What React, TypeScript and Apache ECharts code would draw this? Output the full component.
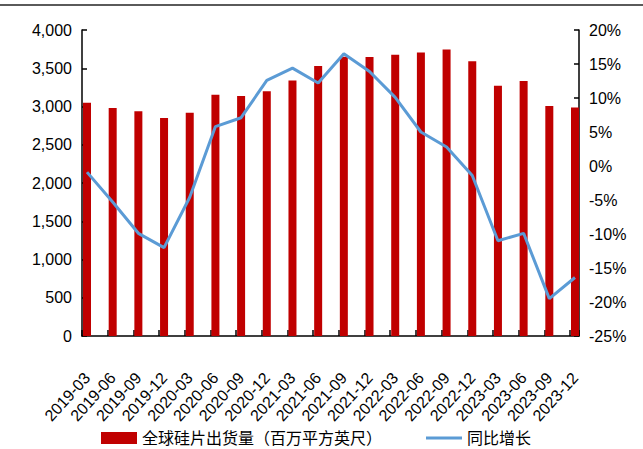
import React, { useEffect, useRef } from 'react';
import * as echarts from 'echarts';

const categories = [
  '2019-03', '2019-06', '2019-09', '2019-12',
  '2020-03', '2020-06', '2020-09', '2020-12',
  '2021-03', '2021-06', '2021-09', '2021-12',
  '2022-03', '2022-06', '2022-09', '2022-12',
  '2023-03', '2023-06', '2023-09', '2023-12',
];
const shipments = [
  3050, 2980, 2937, 2850,
  2919, 3152, 3137, 3198,
  3340, 3530, 3650, 3646,
  3677, 3706, 3746, 3593,
  3270, 3333, 3005, 2988,
];
const yoyGrowth = [
  -0.9, -5.3, -9.9, -12.0,
  -4.6, 5.8, 7.1, 12.6,
  14.4, 12.2, 16.5, 13.9,
  10.1, 5.0, 2.8, -1.4,
  -11.0, -9.9, -19.5, -16.4,
];
const seriesNames = ['全球硅片出货量（百万平方英尺）', '同比增长'];
const leftAxisRange = { min: 0, max: 4000, step: 500 };
const rightAxisRange = { min: -25, max: 20, step: 5 };

const FONT = "'Liberation Sans', Arial, 'Noto Sans CJK SC', sans-serif";

export default function App() {
  const ref = useRef<HTMLDivElement>(null);
  useEffect(() => {
    if (!ref.current) return;
    const chart = echarts.init(ref.current, undefined, { renderer: 'svg' });
    const axisColor = '#000';
    chart.setOption({
      animation: false,
      backgroundColor: '#fff',
      textStyle: { fontFamily: FONT, color: '#000' },
      graphic: [
        { type: 'rect', left: 0, top: 4, shape: { width: 643, height: 2 }, style: { fill: '#5a5a5a' } },
      ],
      legend: {
        data: [
          { name: seriesNames[0], icon: 'rect' },
          { name: seriesNames[1], icon: 'path://M0 0H36V3H0Z', itemStyle: { color: '#5B9BD5' } },
        ],
        left: 96,
        top: 425,
        itemWidth: 36,
        itemHeight: 12,
        itemGap: 44,
        textStyle: { fontSize: 16, color: '#000', fontFamily: FONT },
      },
      grid: [
        { left: 87, right: 68, top: 30, bottom: 113, containLabel: false },
        { left: 82, right: 64, top: 30, bottom: 113, containLabel: false },
      ],
      xAxis: [
        {
          type: 'category',
          gridIndex: 0,
          data: categories,
          boundaryGap: false,
          axisLine: { show: false },
          axisTick: { show: false },
          axisLabel: {
            rotate: 48,
            margin: 39,
            fontSize: 16,
            color: '#000',
            fontFamily: FONT,
            interval: 0,
          },
          splitLine: { show: false },
        },
        {
          type: 'value',
          gridIndex: 1,
          min: 0,
          max: 19.35,
          interval: 1,
          axisLine: { show: true, lineStyle: { color: axisColor, width: 1.5 } },
          axisTick: { show: true, inside: true, length: 6, lineStyle: { color: axisColor, width: 1.5 } },
          axisLabel: { show: false },
          splitLine: { show: false },
        },
      ],
      yAxis: [
        {
          type: 'value',
          gridIndex: 0,
          position: 'left',
          offset: 5,
          min: leftAxisRange.min,
          max: leftAxisRange.max,
          interval: leftAxisRange.step,
          axisLine: { show: true, lineStyle: { color: axisColor, width: 1.5 } },
          axisTick: { show: true, inside: true, length: 5, lineStyle: { color: axisColor, width: 1.5 } },
          axisLabel: {
            margin: 10,
            fontSize: 16,
            color: '#000',
            fontFamily: FONT,
            formatter: (v: number) => v.toLocaleString('en-US'),
          },
          splitLine: { show: false },
        },
        {
          type: 'value',
          gridIndex: 0,
          position: 'right',
          offset: 4,
          min: rightAxisRange.min,
          max: rightAxisRange.max,
          interval: rightAxisRange.step,
          axisLine: { show: true, lineStyle: { color: axisColor, width: 1.5 } },
          axisTick: { show: true, inside: true, length: 5, lineStyle: { color: axisColor, width: 1.5 } },
          axisLabel: {
            margin: 10,
            fontSize: 16,
            color: '#000',
            fontFamily: FONT,
            formatter: (v: number) => `${v}%`,
          },
          splitLine: { show: false },
        },
        {
          type: 'value',
          gridIndex: 1,
          show: false,
          min: 0,
          max: 1,
        },
      ],
      series: [
        {
          name: seriesNames[0],
          type: 'bar',
          xAxisIndex: 0,
          yAxisIndex: 0,
          data: shipments,
          barWidth: 8,
          clip: false,
          itemStyle: { color: '#C00000' },
        },
        {
          name: seriesNames[1],
          type: 'line',
          xAxisIndex: 0,
          yAxisIndex: 1,
          data: yoyGrowth,
          symbol: 'none',
          clip: false,
          lineStyle: { color: '#5B9BD5', width: 3 },
          itemStyle: { color: '#5B9BD5' },
        },
      ],
    });
    return () => chart.dispose();
  }, []);
  return (
    <div
      ref={ref}
      style={{ position: 'absolute', left: 0, top: 0, width: 643, height: 449 }}
    />
  );
}
